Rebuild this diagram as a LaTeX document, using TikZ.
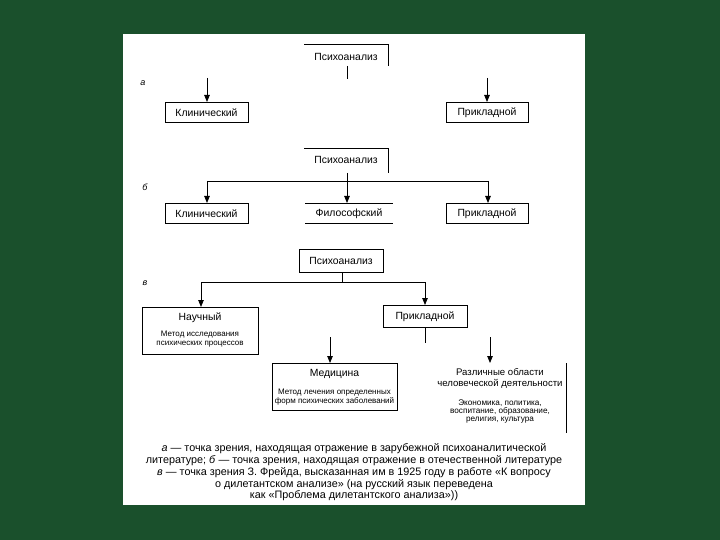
\documentclass[tikz,border=0pt]{standalone}
\usepackage{fontspec}
\setmainfont{Liberation Sans}
\usetikzlibrary{arrows.meta}
\definecolor{bggreen}{RGB}{26,80,44}
\begin{document}
\begin{tikzpicture}[x=1pt,y=-1pt,
  ln/.style={line width=0.8pt},
  arr/.style={line width=0.8pt,-{Triangle[length=7pt,width=5.5pt]}},
  frame/.style={inner sep=0pt,outer sep=0pt},
  bx/.style={frame,draw,line width=0.8pt},
  ttl/.style={inner sep=0pt,font=\fontsize{10.4}{11}\selectfont,align=center,yshift=-0.8pt},
  dsc/.style={inner sep=0pt,font=\fontsize{8}{9}\selectfont,align=center},
  lbl/.style={inner sep=0pt,font=\fontsize{9}{10}\selectfont\itshape},
  captext/.style={inner sep=0pt,font=\fontsize{10.8}{11.8}\selectfont,align=center}
]
\useasboundingbox (0,0) rectangle (720,540);
\fill[bggreen] (0,0) rectangle (720,540);
\fill[white] (123,34) rectangle (585,505);

% ---------- a ----------
\node[frame,minimum width=84pt,minimum height=22pt] (pa) at (346,55) {};
\node[ttl] (paT) at (346,56) {Психоанализ};
\draw[ln] (pa.north west) -- (pa.north east) -- (pa.south east);
\coordinate (a0) at (347,79);
\draw[ln] (pa.south -| a0) -- (a0);
\node[lbl] (la) at (143,83) {а};
\node[bx,minimum width=83pt,minimum height=20pt] (ka) at (206.5,112) {};
\node[ttl] at (ka) {Клинический};
\node[bx,minimum width=82pt,minimum height=20pt] (pra) at (487,112) {};
\node[ttl] at (pra) {Прикладной};
\coordinate (a1) at (207,78);
\coordinate (a2) at (487,78);
\draw[arr] (a1) -- (a1 |- ka.north);
\draw[arr] (a2) -- (a2 |- pra.north);

% ---------- b ----------
\node[frame,minimum width=84pt,minimum height=25pt] (pb) at (346,160.5) {};
\node[ttl] (pbT) at (346,159) {Психоанализ};
\draw[ln] (pb.north west) -- (pb.north east) -- (pb.south east);
\node[lbl] (lb) at (145,187) {б};
\node[bx,minimum width=83pt,minimum height=20pt] (kb) at (206.5,213) {};
\node[ttl] at (kb) {Клинический};
\node[frame,minimum width=88pt,minimum height=20pt] (fil) at (349,213) {};
\node[ttl] at (fil) {Философский};
\draw[ln] (fil.north west) -- (fil.north east);
\draw[ln] (fil.south west) -- (fil.south east);
\node[bx,minimum width=82pt,minimum height=20pt] (prb) at (487,213) {};
\node[ttl] at (prb) {Прикладной};
\coordinate (b0) at (347,181);
\coordinate (b1) at (207,181);
\coordinate (b2) at (488,181);
\draw[arr] (pb.south -| b0) -- (b0 |- fil.north);
\draw[ln] (b1) -- (b2);
\draw[arr] (b1) -- (b1 |- kb.north);
\draw[arr] (b2) -- (b2 |- prb.north);

% ---------- v ----------
\node[bx,minimum width=84pt,minimum height=23pt] (pc) at (341,260.5) {};
\node[ttl] at (pc) {Психоанализ};
\node[lbl] (lc) at (145,283) {в};
\coordinate (c0) at (342,282);
\coordinate (c1) at (201,282);
\coordinate (c2) at (425,282);
\draw[ln] (pc.south -| c0) -- (c0);
\draw[ln] (c1) -- (c2);
\node[bx,minimum width=116pt,minimum height=47pt] (nauch) at (200,330.5) {};
\node[ttl] (nauchT) at (200,317) {Научный};
\node[dsc] (nauchD) at (200,339) {Метод исследования\\психических процессов};
\node[bx,minimum width=84pt,minimum height=22pt] (prc) at (425,316) {};
\node[ttl] at (prc) {Прикладной};
\draw[arr] (c1) -- (c1 |- nauch.north);
\draw[arr] (c2) -- (c2 |- prc.north);
\coordinate (c3) at (425,343);
\draw[ln] (prc.south) -- (c3);

\node[bx,minimum width=125pt,minimum height=47pt] (med) at (334.5,386.5) {};
\node[ttl] (medT) at (334.5,373) {Медицина};
\node[dsc] (medD) at (334.5,397) {Метод лечения определенных\\форм психических заболеваний};
\node[frame,minimum width=132pt,minimum height=70pt] (razl) at (500,398) {};
\node[ttl,font=\fontsize{9.6}{11}\selectfont] (razlT) at (500,378) {Различные области\\человеческой деятельности};
\node[dsc,font=\fontsize{8.2}{7.8}\selectfont] (razlD) at (500,411.5) {Экономика, политика,\\воспитание, образование,\\религия, культура};
\draw[ln] (razl.north east) -- (razl.south east);
\coordinate (d1) at (330,337);
\coordinate (d2) at (490,337);
\draw[arr] (d1) -- (d1 |- med.north);
\draw[arr] (d2) -- (d2 |- razl.north);

% ---------- caption ----------
\node[captext] (caption) at (354,472.5) {\textit{а} — точка зрения, находящая отражение в зарубежной психоаналитической\\
литературе; \textit{б} — точка зрения, находящая отражение в отечественной литературе\\
\textit{в} — точка зрения З. Фрейда, высказанная им в 1925 году в работе «К вопросу\\
о дилетантском анализе» (на русский язык переведена\\
как «Проблема дилетантского анализа»))};
\end{tikzpicture}
\end{document}
